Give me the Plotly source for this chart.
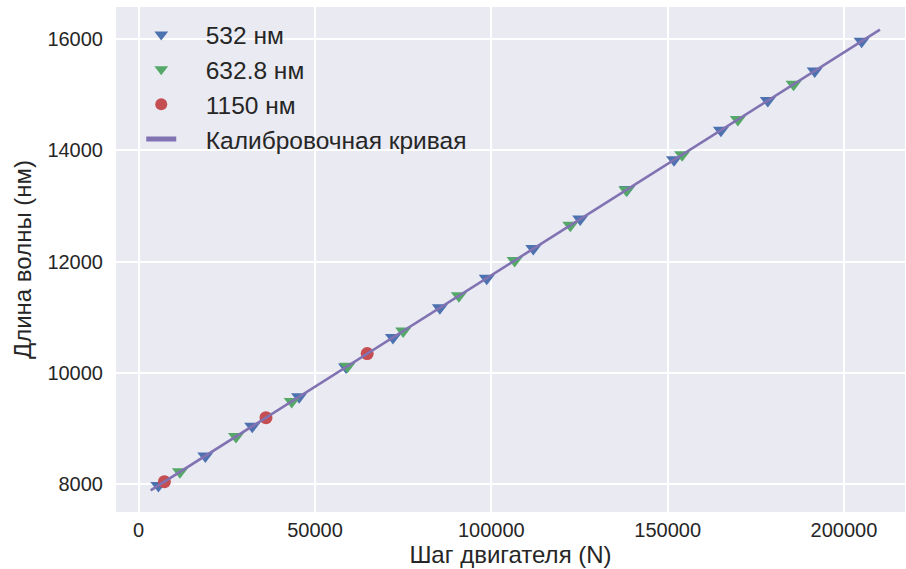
import plotly.graph_objects as go

# Motor step positions (N) and wavelengths (nm) for each laser line
steps_532 = [5600, 18900, 32200, 45500, 58800, 72100, 85400, 98700,
             111900, 125200, 138500, 151800, 165100, 178400, 191700, 205000]
nm_532 = [7980, 8512, 9044, 9576, 10108, 10640, 11172, 11704,
          12236, 12768, 13300, 13832, 14364, 14896, 15428, 15960]

steps_633 = [11700, 27600, 43400, 59200, 75000, 90800,
             106600, 122400, 138300, 154100, 169900, 185700]
nm_633 = [8226, 8859, 9492, 10125, 10758, 11390,
          12023, 12656, 13289, 13922, 14554, 15187]

steps_1150 = [7300, 36100, 64800]
nm_1150 = [8050, 9200, 10350]

# Calibration line end points
calib_steps = [3400, 210200]
calib_nm = [7892, 16168]

x_ticks = [0, 50000, 100000, 150000, 200000]
y_ticks = [8000, 10000, 12000, 14000, 16000]

FONT = "Liberation Sans, Arial, sans-serif"
TEXT = "#262626"
PAD = "\u2003"  # gap between legend symbol and label

fig = go.Figure()
fig.add_trace(go.Scatter(
    x=steps_532, y=nm_532, mode="markers", name=PAD + "532 нм",
    marker=dict(symbol="triangle-down", size=14, color="#4C72B0", line=dict(width=0))))
fig.add_trace(go.Scatter(
    x=steps_633, y=nm_633, mode="markers", name=PAD + "632.8 нм",
    marker=dict(symbol="triangle-down", size=14, color="#55A868", line=dict(width=0))))
fig.add_trace(go.Scatter(
    x=steps_1150, y=nm_1150, mode="markers", name=PAD + "1150 нм",
    marker=dict(symbol="circle", size=13, color="#C44E52", line=dict(width=0))))
fig.add_trace(go.Scatter(
    x=calib_steps, y=calib_nm, mode="lines", name=PAD + "Калибровочная кривая",
    line=dict(color="#8172B2", width=2.6)))

fig.update_layout(
    width=906, height=569,
    margin=dict(l=116, r=1, t=7, b=57),
    paper_bgcolor="white",
    plot_bgcolor="#EAEAF2",
    font=dict(family=FONT, size=20, color=TEXT),
    showlegend=True,
    legend=dict(x=0.032, y=0.99, xanchor="left", yanchor="top",
                bgcolor="rgba(0,0,0,0)", font=dict(size=24.5, color=TEXT),
                tracegroupgap=0, itemsizing="constant"),
)
fig.update_xaxes(
    range=[-6430, 217300], tickvals=x_ticks, ticktext=[str(v) for v in x_ticks],
    showgrid=True, gridcolor="white", gridwidth=1.6, zeroline=False,
    showline=False, ticks="", ticklabelstandoff=4,
    tickfont=dict(size=20, color=TEXT),
    title=dict(text="Шаг двигателя (N)", font=dict(size=24, color=TEXT), standoff=5))
fig.update_yaxes(
    range=[7505, 16576], tickvals=y_ticks, ticktext=[str(v) for v in y_ticks],
    showgrid=True, gridcolor="white", gridwidth=1.6, zeroline=False,
    showline=False, ticks="", ticklabelstandoff=12,
    tickfont=dict(size=20, color=TEXT),
    title=dict(text="Длина волны (нм)", font=dict(size=24, color=TEXT), standoff=8))

fig.write_html("out.html")
